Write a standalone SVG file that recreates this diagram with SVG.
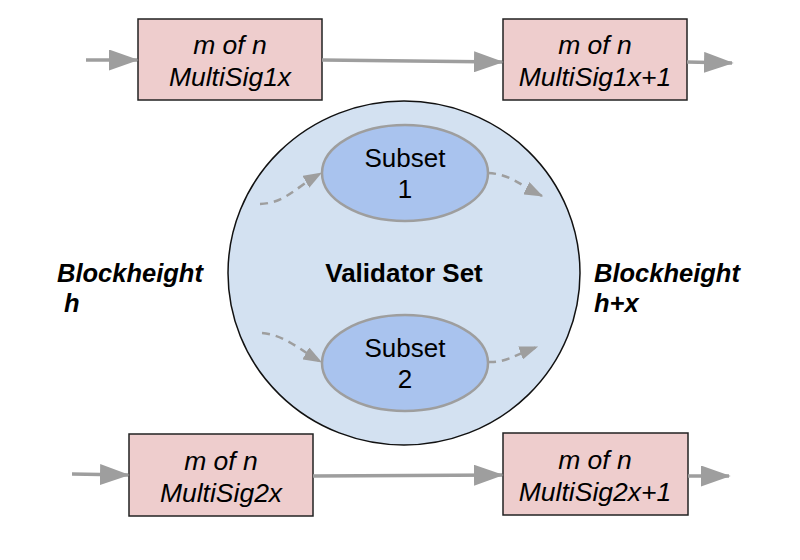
<svg xmlns="http://www.w3.org/2000/svg" width="800" height="560" viewBox="0 0 800 560">
<style>
.box{fill:#eecdcd;stroke:#222;stroke-width:1.5}
.bt{font-family:"Liberation Sans",Arial,sans-serif;font-size:26.5px;font-style:italic;fill:#000;text-anchor:middle}
.st{font-family:"Liberation Sans",Arial,sans-serif;font-size:26px;fill:#000;text-anchor:middle}
.lb{font-family:"Liberation Sans",Arial,sans-serif;font-size:25.5px;font-style:italic;font-weight:bold;fill:#000}
.solid{fill:none;stroke:#9e9e9e;stroke-width:3.5}
.dash{fill:none;stroke:#9e9e9e;stroke-width:2.5;stroke-dasharray:8,6}
</style>
<defs>
<marker id="ah" viewBox="0 0 8.5 6" refX="8" refY="3" markerWidth="8.5" markerHeight="6" markerUnits="strokeWidth" orient="auto"><path d="M0,0 L8.5,3 L0,6 z" fill="#9e9e9e"/></marker>
<marker id="ahd" viewBox="0 0 7.5 5.5" refX="7" refY="2.75" markerWidth="7.5" markerHeight="5.5" markerUnits="strokeWidth" orient="auto"><path d="M0,0 L7.5,2.75 L0,5.5 z" fill="#9e9e9e"/></marker>
</defs>
<g id="validator-set">
<ellipse cx="404" cy="273" rx="176" ry="172" fill="#d3e1f1" stroke="#111" stroke-width="1.5"/>
<text class="st" x="404" y="282" font-weight="bold">Validator Set</text>
</g>
<g id="subset1">
<ellipse cx="405" cy="173" rx="83" ry="48" fill="#a9c3ee" stroke="#9e9e9e" stroke-width="2.5"/>
<text class="st" x="405" y="167">Subset</text>
<text class="st" x="405" y="198">1</text>
</g>
<g id="subset2">
<ellipse cx="405" cy="363" rx="83" ry="48" fill="#a9c3ee" stroke="#9e9e9e" stroke-width="2.5"/>
<text class="st" x="405" y="357">Subset</text>
<text class="st" x="405" y="388">2</text>
</g>
<g id="ms1x">
<rect class="box" x="138" y="19" width="184" height="81"/>
<text class="bt" x="230" y="54">m of n</text>
<text class="bt" x="230" y="86">MultiSig1x</text>
</g>
<g id="ms1x1">
<rect class="box" x="503" y="19" width="184" height="81"/>
<text class="bt" x="595" y="54">m of n</text>
<text class="bt" x="595" y="86">MultiSig1x+1</text>
</g>
<g id="ms2x">
<rect class="box" x="129" y="434" width="184" height="82"/>
<text class="bt" x="221" y="470">m of n</text>
<text class="bt" x="221" y="502">MultiSig2x</text>
</g>
<g id="ms2x1">
<rect class="box" x="503" y="433" width="185" height="82"/>
<text class="bt" x="595" y="469">m of n</text>
<text class="bt" x="595" y="501">MultiSig2x+1</text>
</g>
<g id="label-h">
<text class="lb" x="57" y="282">Blockheight</text>
<text class="lb" x="64" y="312">h</text>
</g>
<g id="label-hx">
<text class="lb" x="594" y="282">Blockheight</text>
<text class="lb" x="594" y="312">h+x</text>
</g>
<g id="connectors">
<path class="solid" d="M86,60 L137,60" marker-end="url(#ah)"/>
<path class="solid" d="M322,60 L502,62" marker-end="url(#ah)"/>
<path class="solid" d="M687,62 L732,63" marker-end="url(#ah)"/>
<path class="solid" d="M72,474 L128,475" marker-end="url(#ah)"/>
<path class="solid" d="M313,476 L502,475" marker-end="url(#ah)"/>
<path class="solid" d="M688,476 L729,476" marker-end="url(#ah)"/>
<path class="dash" d="M260,204 C285,203 295,188 321,173" marker-end="url(#ahd)"/>
<path class="dash" d="M488,173 C510,174 520,185 542,196" marker-end="url(#ahd)"/>
<path class="dash" d="M262,333 C285,335 300,350 321,362" marker-end="url(#ahd)"/>
<path class="dash" d="M488,362 C505,363 515,355 537,347" marker-end="url(#ahd)"/>
</g>
</svg>
